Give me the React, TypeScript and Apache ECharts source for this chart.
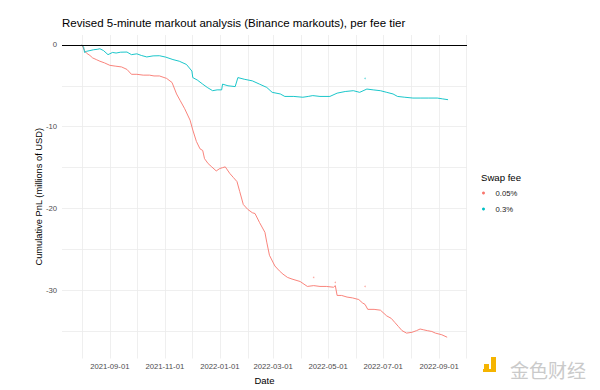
import React, { useEffect, useRef } from 'react';
import * as echarts from 'echarts';

// Swap fee 0.05% cumulative PnL (millions of USD)
const dates005 = [
  '2021-08-01', '2021-08-04', '2021-08-06', '2021-08-10', '2021-08-13', '2021-08-17', '2021-08-21',
  '2021-08-26', '2021-09-01', '2021-09-07', '2021-09-14', '2021-09-20', '2021-09-25', '2021-10-01',
  '2021-10-08', '2021-10-15', '2021-10-20', '2021-10-26', '2021-11-03', '2021-11-09', '2021-11-14',
  '2021-11-18', '2021-11-23', '2021-11-29', '2021-12-02', '2021-12-06', '2021-12-10', '2021-12-13',
  '2021-12-15', '2021-12-19', '2021-12-23', '2021-12-28', '2022-01-01', '2022-01-04', '2022-01-07',
  '2022-01-12', '2022-01-16', '2022-01-20', '2022-01-23', '2022-01-27', '2022-02-01', '2022-02-06',
  '2022-02-09', '2022-02-14', '2022-02-20', '2022-02-22', '2022-02-25', '2022-03-03', '2022-03-08',
  '2022-03-12', '2022-03-17', '2022-03-22', '2022-03-31', '2022-04-08', '2022-04-15', '2022-04-22',
  '2022-04-29', '2022-05-07', '2022-05-09', '2022-05-11', '2022-05-16', '2022-05-22', '2022-05-28',
  '2022-06-04', '2022-06-08', '2022-06-11', '2022-06-14', '2022-06-21', '2022-06-28', '2022-07-05',
  '2022-07-10', '2022-07-14', '2022-07-18', '2022-07-22', '2022-07-27', '2022-08-02', '2022-08-07',
  '2022-08-11', '2022-08-15', '2022-08-19', '2022-08-24', '2022-08-28', '2022-09-04', '2022-09-10',
];
const pnl005 = [
  0.0, -0.7, -1.0, -1.3, -1.6, -1.8, -2.0,
  -2.2, -2.5, -2.6, -2.7, -3.0, -3.6, -3.6,
  -3.7, -3.7, -3.8, -3.8, -4.1, -4.6, -6.0,
  -6.8, -7.8, -9.2, -10.4, -11.8, -12.7, -12.9,
  -13.9, -14.5, -14.9, -15.4, -15.1, -15.0, -14.9,
  -15.7, -16.2, -16.7, -17.9, -19.5, -20.1, -20.5,
  -20.6, -21.7, -22.9, -24.1, -25.7, -27.0, -27.6,
  -28.0, -28.4, -28.6, -28.9, -29.5, -29.4, -29.5,
  -29.5, -29.6, -29.4, -30.6, -30.6, -30.8, -30.9,
  -31.1, -31.5, -31.7, -32.3, -32.3, -32.4, -33.1,
  -33.4, -33.9, -34.4, -34.9, -35.2, -35.1, -34.9,
  -34.7, -34.8, -34.9, -35.0, -35.2, -35.4, -35.7,
];

// Swap fee 0.3% cumulative PnL (millions of USD)
const dates03 = [
  '2021-08-01', '2021-08-03', '2021-08-04', '2021-08-06', '2021-08-10', '2021-08-14', '2021-08-18',
  '2021-08-21', '2021-08-25', '2021-08-30', '2021-09-04', '2021-09-08', '2021-09-13', '2021-09-20',
  '2021-09-25', '2021-10-01', '2021-10-06', '2021-10-12', '2021-10-19', '2021-10-26', '2021-11-02',
  '2021-11-10', '2021-11-17', '2021-11-25', '2021-12-01', '2021-12-02', '2021-12-07', '2021-12-13',
  '2021-12-18', '2021-12-24', '2021-12-29', '2022-01-03', '2022-01-04', '2022-01-10', '2022-01-18',
  '2022-01-21', '2022-01-28', '2022-02-06', '2022-02-14', '2022-02-22', '2022-02-28', '2022-03-09',
  '2022-03-14', '2022-03-24', '2022-04-03', '2022-04-09', '2022-04-14', '2022-04-22', '2022-05-03',
  '2022-05-11', '2022-05-20', '2022-05-29', '2022-06-05', '2022-06-13', '2022-06-20', '2022-06-28',
  '2022-07-05', '2022-07-12', '2022-07-17', '2022-07-25', '2022-08-03', '2022-08-11', '2022-08-20',
  '2022-08-30', '2022-09-05', '2022-09-11',
];
const pnl03 = [
  0.0, -0.3, -0.93, -0.8, -0.7, -0.6, -0.55,
  -0.48, -0.7, -1.2, -0.93, -1.0, -0.9, -0.88,
  -1.2, -1.1, -1.3, -1.48, -1.35, -1.33, -1.5,
  -1.8, -2.0, -2.4, -3.2, -4.0, -4.3, -4.8,
  -5.2, -5.6, -5.5, -5.5, -4.8, -5.0, -5.1,
  -4.0, -4.2, -4.4, -4.8, -5.2, -5.8, -6.0,
  -6.3, -6.3, -6.4, -6.3, -6.2, -6.3, -6.3,
  -5.9, -5.7, -5.6, -5.8, -5.4, -5.5, -5.6,
  -5.8, -6.0, -6.3, -6.4, -6.5, -6.5, -6.5,
  -6.5, -6.6, -6.7,
];

// Isolated outlying markouts
const outlierDates005 = ['2022-04-15', '2022-05-09', '2022-06-11'];
const outlierPnl005 = [-28.4, -29.0, -29.5];
const outlierDates03 = ['2022-06-11'];
const outlierPnl03 = [-4.1];

const xTickDates = [
  '2021-08-01', '2021-09-01', '2021-10-01', '2021-11-01', '2021-12-01', '2022-01-01', '2022-02-01',
  '2022-03-01', '2022-04-01', '2022-05-01', '2022-06-01', '2022-07-01', '2022-08-01', '2022-09-01',
  '2022-10-01',
];
const xLabelDates = ['2021-09-01', '2021-11-01', '2022-01-01', '2022-03-01', '2022-05-01', '2022-07-01', '2022-09-01'];
const yTicks = [-35, -30, -25, -20, -15, -10, -5, 0];
const yLabels = [-30, -20, -10, 0];

const seriesNames = ['0.05%', '0.3%'];
const colors = ['#F8766D', '#00BFC4'];

const FONT = '"Liberation Sans", Arial, Helvetica, sans-serif';

const ts = (s: string) => Date.parse(s);
const pairs = (d: string[], v: number[]) => d.map((s, i) => [ts(s), v[i]]);

export default function App() {
  const ref = useRef<HTMLDivElement>(null);
  useEffect(() => {
    const chart = echarts.init(ref.current!, null, { renderer: 'svg' });
    chart.setOption({
      animation: false,
      backgroundColor: '#ffffff',
      textStyle: { fontFamily: FONT },
      title: {
        text: 'Revised 5-minute markout analysis (Binance markouts), per fee tier',
        left: 62,
        top: 17,
        padding: 0,
        textStyle: { fontFamily: FONT, fontSize: 11.5, fontWeight: 'normal', color: '#000' },
      },
      grid: { left: 62, right: 133, top: 35, bottom: 27, containLabel: false },
      legend: {
        orient: 'vertical',
        left: 482,
        top: 188,
        padding: 0,
        itemWidth: 14,
        itemHeight: 3,
        itemGap: 6,
        icon: 'circle',
        data: seriesNames,
        textStyle: { fontFamily: FONT, fontSize: 7.7, color: '#1a1a1a', lineHeight: 10 },
      },
      xAxis: {
        type: 'value',
        min: ts('2021-07-10'),
        max: ts('2022-10-02'),
        name: 'Date',
        nameLocation: 'middle',
        nameGap: 16.5,
        nameMoveOverlap: false,
        nameTextStyle: { fontFamily: FONT, fontSize: 9.5, color: '#000' },
        axisLine: { show: false },
        axisTick: { show: false, customValues: xTickDates.map(ts) },
        axisLabel: {
          customValues: xLabelDates.map(ts),
          margin: 4,
          fontFamily: FONT,
          fontSize: 7.7,
          color: '#4D4D4D',
          formatter: (v: number) => new Date(v).toISOString().slice(0, 10),
        },
        splitLine: { show: true, lineStyle: { color: '#EBEBEB', width: 0.8 } },
      },
      yAxis: {
        type: 'value',
        min: -38.3,
        max: 1.2,
        name: 'Cumulative PnL (millions of USD)',
        nameLocation: 'middle',
        nameGap: 19,
        nameMoveOverlap: false,
        nameTextStyle: { fontFamily: FONT, fontSize: 9.3, color: '#000' },
        axisLine: { show: false },
        axisTick: { show: false, customValues: yTicks },
        axisLabel: {
          customValues: yLabels,
          margin: 5,
          fontFamily: FONT,
          fontSize: 7.7,
          color: '#4D4D4D',
        },
        splitLine: { show: true, lineStyle: { color: '#EBEBEB', width: 0.8 } },
      },
      series: [
        {
          name: seriesNames[0],
          type: 'line',
          data: pairs(dates005, pnl005),
          showSymbol: false,
          symbol: 'none',
          lineStyle: { color: colors[0], width: 0.9 },
          itemStyle: { color: colors[0] },
          markLine: {
            silent: true,
            symbol: ['none', 'none'],
            label: { show: false },
            lineStyle: { color: '#000', width: 1.1, type: 'solid' },
            data: [{ yAxis: 0 }],
          },
          z: 3,
        },
        {
          name: seriesNames[1],
          type: 'line',
          data: pairs(dates03, pnl03),
          showSymbol: false,
          symbol: 'none',
          lineStyle: { color: colors[1], width: 0.9 },
          itemStyle: { color: colors[1] },
          z: 3,
        },
        {
          name: 'outliers 0.05%',
          type: 'scatter',
          data: pairs(outlierDates005, outlierPnl005),
          symbolSize: 1.5,
          itemStyle: { color: colors[0], opacity: 0.6 },
        },
        {
          name: 'outliers 0.3%',
          type: 'scatter',
          data: pairs(outlierDates03, outlierPnl03),
          symbolSize: 1.5,
          itemStyle: { color: colors[1], opacity: 0.6 },
        },
      ],
      graphic: [
        {
          type: 'text',
          left: 481,
          top: 172,
          style: { text: 'Swap fee', font: `9.6px ${FONT}`, fill: '#000' },
        },
        // watermark logo
        { type: 'rect', shape: { x: 484, y: 364, width: 5, height: 5 }, style: { fill: '#F5B400' } },
        { type: 'rect', shape: { x: 491, y: 357, width: 5, height: 15 }, style: { fill: '#F5B400' } },
        { type: 'rect', shape: { x: 483, y: 369, width: 13, height: 3 }, style: { fill: '#F5B400' } },
        {
          type: 'text',
          left: 510,
          top: 360,
          style: { text: '金色财经', font: '19px "Noto Sans CJK SC", sans-serif', fill: '#CACACA' },
        },
      ],
    });
    return () => chart.dispose();
  }, []);
  return <div ref={ref} style={{ position: 'fixed', left: 0, top: 0, width: 600, height: 390 }} />;
}
